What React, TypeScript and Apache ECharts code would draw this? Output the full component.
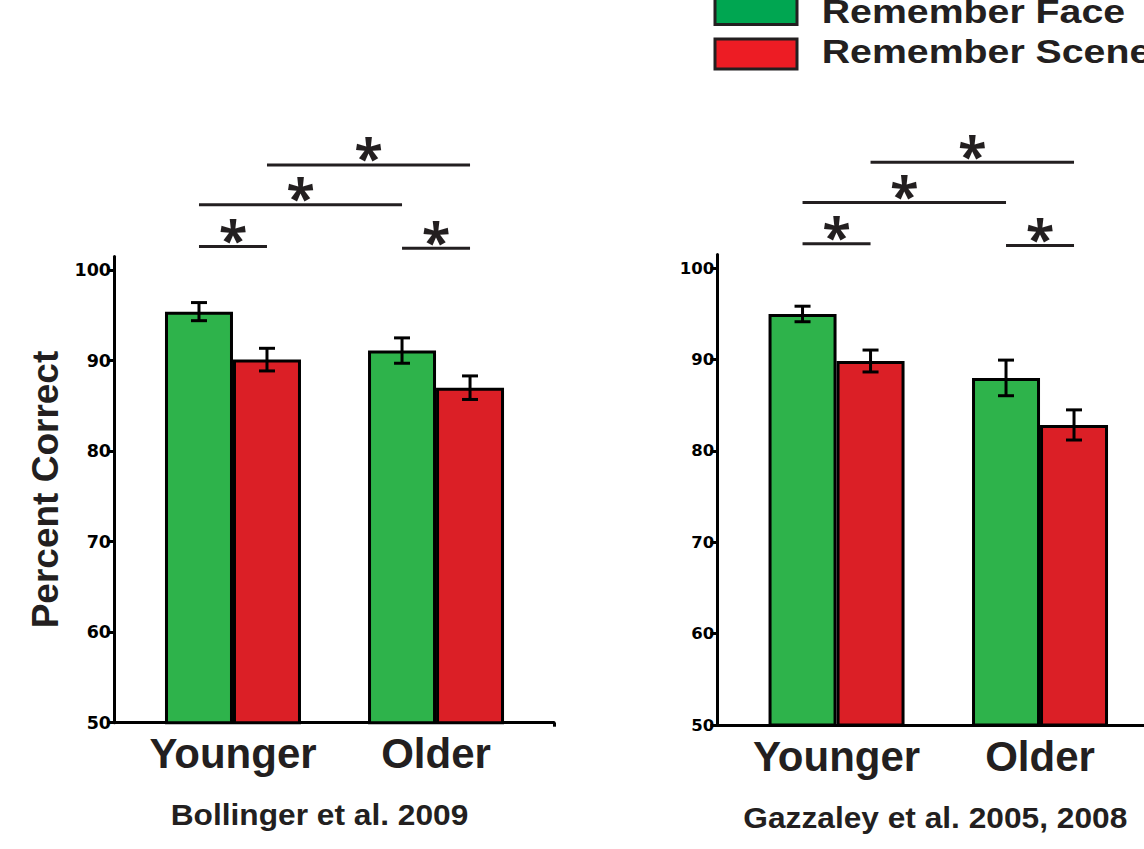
import React, { useEffect, useRef } from "react";
import * as echarts from "echarts";

// ---------------- data ----------------
const categories = ["Younger", "Older"];
const conditions = ["Remember Face", "Remember Scene"];
const yTicks = [50, 60, 70, 80, 90, 100];

// Bollinger et al. 2009
const bollFace = [95.4, 91.1];
const bollFaceErr = [1.0, 1.4];
const bollScene = [90.1, 87.0];
const bollSceneErr = [1.25, 1.3];

// Gazzaley et al. 2005, 2008
const gazFace = [95.0, 88.0];
const gazFaceErr = [0.85, 1.95];
const gazScene = [89.85, 82.85];
const gazSceneErr = [1.2, 1.65];

// significance bars: [fromCategory, fromCondition, toCategory, toCondition, level]
const bollSig = [
  [0, 0, 0, 1, 102.6],
  [0, 0, 1, 0, 107.2],
  [0, 1, 1, 1, 111.6],
  [1, 0, 1, 1, 102.4],
];
const gazSig = [
  [0, 0, 0, 1, 102.7],
  [0, 0, 1, 0, 107.2],
  [0, 1, 1, 1, 111.6],
  [1, 0, 1, 1, 102.5],
];

const titles = ["Bollinger et al. 2009", "Gazzaley et al. 2005, 2008"];

// ---------------- styles ----------------
const BAR_W = 68;
const GREEN = "#2eb34b";
const RED = "#db1f26";
const LEG_GREEN = "#00a651";
const LEG_RED = "#ed1c24";
const INK = "#231f20";
const ARIAL = "Liberation Sans";

function makeSeries(
  gi: number,
  face: number[],
  faceErr: number[],
  scene: number[],
  sceneErr: number[],
  sig: number[][]
) {
  const errData: number[][] = [];
  categories.forEach((_, i) => {
    errData.push([i, 0, face[i], faceErr[i]]);
    errData.push([i, 1, scene[i], sceneErr[i]]);
  });
  return [
    {
      type: "bar",
      name: conditions[0],
      xAxisIndex: gi,
      yAxisIndex: gi,
      barWidth: BAR_W,
      barGap: "0%",
      data: face.map((v, i) => [i, v]),
      itemStyle: { color: GREEN, borderColor: "#000", borderWidth: 3 },
    },
    {
      type: "bar",
      name: conditions[1],
      xAxisIndex: gi,
      yAxisIndex: gi,
      barWidth: BAR_W,
      barGap: "0%",
      data: scene.map((v, i) => [i, v]),
      itemStyle: { color: RED, borderColor: "#000", borderWidth: 3 },
    },
    {
      type: "custom",
      xAxisIndex: gi,
      yAxisIndex: gi,
      encode: { x: 0, y: 2 },
      data: errData,
      z: 5,
      renderItem: (params: any, api: any) => {
        const x = api.value(0);
        const cond = api.value(1);
        const m = api.value(2);
        const e = api.value(3);
        const hi = api.coord([x, m + e]);
        const lo = api.coord([x, m - e]);
        const px = hi[0] + (cond - 0.5) * BAR_W;
        const cap = 8;
        const st = { stroke: "#000", lineWidth: 3 };
        return {
          type: "group",
          children: [
            { type: "line", shape: { x1: px, y1: hi[1], x2: px, y2: lo[1] }, style: st },
            { type: "line", shape: { x1: px - cap, y1: hi[1], x2: px + cap, y2: hi[1] }, style: st },
            { type: "line", shape: { x1: px - cap, y1: lo[1], x2: px + cap, y2: lo[1] }, style: st },
          ],
        };
      },
    },
    {
      type: "custom",
      xAxisIndex: gi,
      yAxisIndex: gi,
      encode: { x: 0, y: 4 },
      clip: false,
      data: sig,
      z: 5,
      renderItem: (params: any, api: any) => {
        const a = api.coord([api.value(0), api.value(4)]);
        const b = api.coord([api.value(2), api.value(4)]);
        const x1 = a[0] + (api.value(1) - 0.5) * BAR_W;
        const x2 = b[0] + (api.value(3) - 0.5) * BAR_W;
        const y = a[1];
        return {
          type: "group",
          children: [
            {
              type: "line",
              shape: { x1, y1: y, x2, y2: y },
              style: { stroke: INK, lineWidth: 3 },
            },
            {
              type: "text",
              x: (x1 + x2) / 2,
              y: y - 8,
              style: {
                text: "*",
                fill: INK,
                fontFamily: "Noto Sans",
                fontWeight: "bold",
                fontSize: 52,
                textAlign: "center",
                textVerticalAlign: "middle",
              },
            },
          ],
        };
      },
    },
  ];
}

function makeAxes(gi: number, xMax: number, labelSize: number, name: string) {
  const xAxis = {
    type: "value",
    gridIndex: gi,
    min: -0.586,
    max: xMax,
    axisLine: { show: true, lineStyle: { color: "#000", width: 3 } },
    axisTick: {
      show: gi === 0,
      customValues: [xMax],
      length: 4,
      lineStyle: { color: "#000", width: 3 },
    },
    splitLine: { show: false },
    axisLabel: {
      customValues: [0, 1],
      formatter: (v: number) => categories[Math.round(v)],
      fontFamily: ARIAL,
      fontWeight: "bold",
      fontSize: 42,
      color: INK,
      margin: 10,
    },
  };
  const yAxis = {
    type: "value",
    gridIndex: gi,
    min: yTicks[0],
    max: 101.5,
    interval: 10,
    name,
    nameLocation: "middle",
    nameRotate: 90,
    nameGap: 50,
    nameTextStyle: {
      fontFamily: ARIAL,
      fontWeight: "bold",
      fontSize: 37,
      color: INK,
    },
    axisLine: { show: true, onZero: false, lineStyle: { color: "#000", width: 3 } },
    axisTick: { show: true, length: 7, lineStyle: { color: "#000", width: 3 } },
    splitLine: { show: false },
    axisLabel: {
      fontFamily: "DejaVu Sans",
      fontWeight: "bold",
      fontSize: labelSize,
      color: "#000",
      margin: 3,
    },
  };
  return { xAxis, yAxis };
}

export default function App() {
  const ref = useRef<HTMLDivElement>(null);
  useEffect(() => {
    if (!ref.current) return;
    const chart = echarts.init(ref.current, null, { renderer: "svg" });
    const a0 = makeAxes(0, 1.581, 17.5, "Percent Correct");
    const a1 = makeAxes(1, 1.511, 16.5, "");
    const option: any = {
      animation: false,
      backgroundColor: "#fff",
      grid: [
        { left: 114, width: 440, top: 256.4, bottom: 126.3 },
        { left: 717.3, right: 0, top: 254.6, bottom: 124 },
      ],
      xAxis: [a0.xAxis, a1.xAxis],
      yAxis: [a0.yAxis, a1.yAxis],
      series: [
        ...makeSeries(0, bollFace, bollFaceErr, bollScene, bollSceneErr, bollSig),
        ...makeSeries(1, gazFace, gazFaceErr, gazScene, gazSceneErr, gazSig),
      ],
      graphic: [
        {
          type: "text",
          x: 319.5,
          y: 814.5,
          scaleX: 1.093,
          style: {
            text: titles[0],
            fontFamily: ARIAL,
            fontWeight: "bold",
            fontSize: 29,
            fill: INK,
            textAlign: "center",
            textVerticalAlign: "middle",
          },
        },
        {
          type: "text",
          x: 935.3,
          y: 817.5,
          scaleX: 1.093,
          style: {
            text: titles[1],
            fontFamily: ARIAL,
            fontWeight: "bold",
            fontSize: 29,
            fill: INK,
            textAlign: "center",
            textVerticalAlign: "middle",
          },
        },
        {
          type: "rect",
          shape: { x: 715, y: -5.5, width: 82, height: 30 },
          style: { fill: LEG_GREEN, stroke: INK, lineWidth: 3 },
        },
        {
          type: "rect",
          shape: { x: 715, y: 39, width: 82, height: 30 },
          style: { fill: LEG_RED, stroke: INK, lineWidth: 3 },
        },
        {
          type: "text",
          x: 821.7,
          y: 11.3,
          scaleX: 1.19,
          style: {
            text: conditions[0],
            fontFamily: ARIAL,
            fontWeight: "bold",
            fontSize: 33,
            fill: INK,
            textAlign: "left",
            textVerticalAlign: "middle",
          },
        },
        {
          type: "text",
          x: 821.7,
          y: 51.7,
          scaleX: 1.19,
          style: {
            text: conditions[1],
            fontFamily: ARIAL,
            fontWeight: "bold",
            fontSize: 33,
            fill: INK,
            textAlign: "left",
            textVerticalAlign: "middle",
          },
        },
      ],
    };
    chart.setOption(option);
    return () => chart.dispose();
  }, []);
  return (
    <div
      ref={ref}
      style={{ position: "absolute", left: 0, top: 0, width: 1144, height: 849 }}
    />
  );
}
